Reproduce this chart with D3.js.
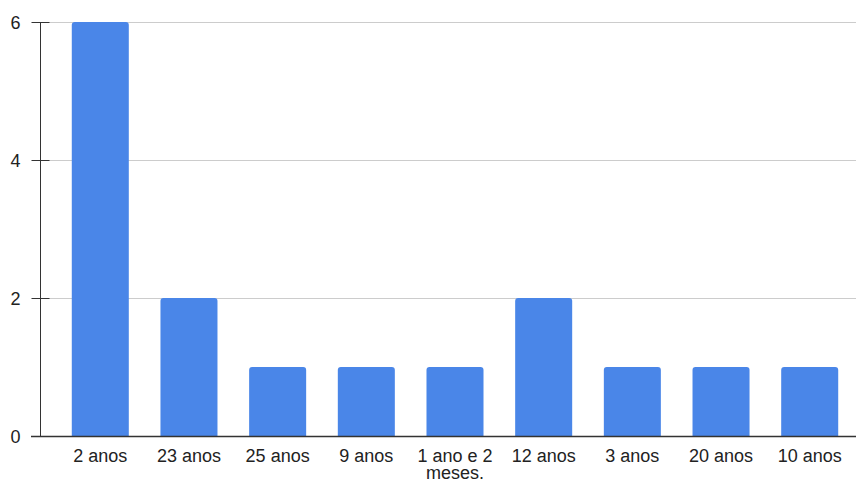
<!DOCTYPE html>
<html>
<head>
<meta charset="utf-8">
<script src="https://cdn.jsdelivr.net/npm/d3@7"></script>
<style>
	body { margin: 0; background: #fff; }
	text { font-family: "Liberation Sans", Arial, sans-serif; }
</style>
</head>
<body>
<div class="chart"></div>
<script>
// data
var categories = ["2 anos", "23 anos", "25 anos", "9 anos", "1 ano e 2 meses.", "12 anos", "3 anos", "20 anos", "10 anos"],
	values = [6, 2, 1, 1, 1, 2, 1, 1, 1],
	yTicks = [0, 2, 4, 6];

var width = 856,
	height = 479;

var svg = d3.select(".chart").append("svg")
	.attr("width", width)
	.attr("height", height);

var x = d3.scaleBand()
	.domain(categories)
	.range([56, 854])
	.paddingInner(0.357)
	.paddingOuter(0.178);

var y = d3.scaleLinear()
	.domain([0, 6])
	.range([436, 22]);

// gridlines
svg.selectAll("line.grid")
	.data(yTicks.filter(function(d) { return d > 0; })).enter()
	.append("line")
	.attr("class", "grid")
	.attr("x1", 40)
	.attr("x2", width)
	.attr("y1", function(d) { return y(d) + 0.5; })
	.attr("y2", function(d) { return y(d) + 0.5; })
	.attr("stroke", "#cccccc")
	.attr("stroke-width", 1);

// bars with slightly rounded tops
var r = 3;
svg.selectAll("path.bar")
	.data(values).enter()
	.append("path")
	.attr("class", "bar")
	.attr("fill", "#4a86e8")
	.attr("d", function(d, i) {
		var x0 = x(categories[i]),
			w = x.bandwidth(),
			y0 = y(d),
			y1 = y(0);
		return "M" + x0 + "," + y1 +
			"V" + (y0 + r) +
			"Q" + x0 + "," + y0 + " " + (x0 + r) + "," + y0 +
			"H" + (x0 + w - r) +
			"Q" + (x0 + w) + "," + y0 + " " + (x0 + w) + "," + (y0 + r) +
			"V" + y1 + "Z";
	});

// y axis
var yAxis = svg.append("g")
	.attr("transform", "translate(40.5,0)")
	.call(d3.axisLeft(y).tickValues(yTicks).tickSize(9).tickPadding(12).tickFormat(d3.format("d")));
yAxis.select(".domain").attr("stroke", "#333333").attr("d", "M0," + y(6) + "V" + y(0));
yAxis.selectAll(".tick line").attr("stroke", "#333333").attr("x2", 9).attr("x1", -9);
yAxis.selectAll(".tick text")
	.attr("x", -20)
	.attr("dy", "0.35em")
	.attr("fill", "#222222")
	.style("font-size", "18px")
	.style("font-family", "'Liberation Sans', Arial, sans-serif");

// x axis baseline
svg.append("line")
	.attr("x1", 31)
	.attr("x2", width)
	.attr("y1", y(0) + 0.5)
	.attr("y2", y(0) + 0.5)
	.attr("stroke", "#333333")
	.attr("stroke-width", 1.3);

// category labels (wrapped to the band)
svg.selectAll("text.cat")
	.data(categories).enter()
	.append("text")
	.attr("class", "cat")
	.attr("x", function(d) { return x(d) + x.bandwidth() / 2; })
	.attr("y", 462)
	.attr("text-anchor", "middle")
	.attr("fill", "#222222")
	.style("font-size", "18px")
	.each(function(d) {
		var el = d3.select(this);
		var lines = d === "1 ano e 2 meses." ? ["1 ano e 2", "meses."] : [d];
		lines.forEach(function(l, i) {
			el.append("tspan")
				.attr("x", x(d) + x.bandwidth() / 2)
				.attr("dy", i === 0 ? 0 : 17)
				.text(l);
		});
	});
</script>
</body>
</html>
